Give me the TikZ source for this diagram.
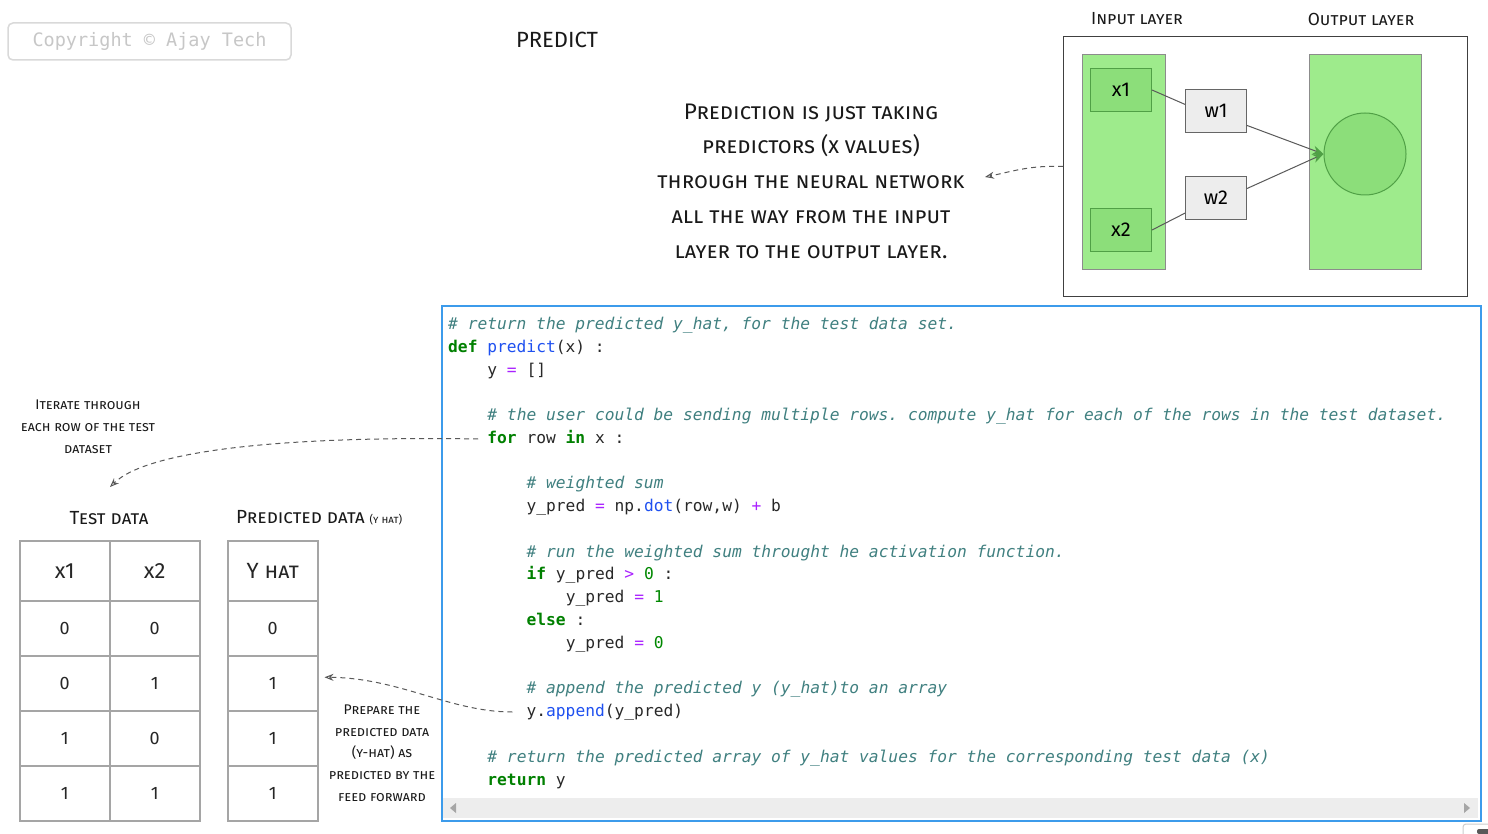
\documentclass[tikz,border=0pt]{standalone}
\usepackage{fontspec}
\usetikzlibrary{arrows.meta,calc}
\newfontfamily\hand[Letters=SmallCaps]{Fira Sans}
\newfontfamily\handup{Fira Sans}
\newfontfamily\codefont{DejaVu Sans Mono}
\frenchspacing
\definecolor{cmt}{RGB}{64,128,128}
\definecolor{kw}{RGB}{0,128,0}
\definecolor{fn}{RGB}{30,80,240}
\definecolor{op}{RGB}{170,34,255}
\definecolor{num}{RGB}{0,136,0}
\definecolor{txt}{RGB}{40,40,40}
\definecolor{codeblue}{RGB}{60,155,235}
\definecolor{layergreen}{RGB}{158,235,140}
\definecolor{cellgreen}{RGB}{140,222,122}
\definecolor{greenborder}{RGB}{80,160,70}
\definecolor{gridgray}{RGB}{165,165,165}
\newcommand\Kw[1]{\textcolor{kw}{\bfseries #1}}
\newcommand\Fn[1]{\textcolor{fn}{#1}}
\newcommand\Op[1]{\textcolor{op}{#1}}
\newcommand\Nm[1]{\textcolor{num}{#1}}
\newcommand\Cm[1]{\textcolor{cmt}{\itshape #1}}
\begin{document}
\begin{tikzpicture}[x=1pt,y=-1pt,
  codeln/.style={anchor=west, inner sep=0pt, text height=12pt, text depth=3.5pt, yshift=-2pt,
    font=\codefont\fontsize{16.25}{20}\selectfont, text=txt},
  handtext/.style={inner sep=0pt, align=center, text=black!90},
  cellbox/.style={draw=gridgray, line width=1.5pt, anchor=north west, inner sep=0pt,
    font=\handup\fontsize{18}{22}\selectfont, text=black!85},
  dasharrow/.style={draw=black!65, dashed, line width=1pt, dash pattern=on 5pt off 4pt,
    -{Stealth[length=9pt,width=7pt,open,line width=1pt]}},
  nnbox/.style={draw=black!60, line width=1pt, fill=black!7, minimum width=61pt,
    minimum height=43pt, inner sep=0pt, font=\handup\fontsize{20}{24}\selectfont},
  xbox/.style={draw=greenborder, line width=1pt, fill=cellgreen, minimum width=61pt,
    minimum height=43pt, inner sep=0pt, font=\handup\fontsize{20}{24}\selectfont},
  layer/.style={draw=black!45, line width=1pt, fill=layergreen, inner sep=0pt},
  nnline/.style={draw=black!65, line width=1pt}
]
\useasboundingbox (0,0) rectangle (1488,834);
\fill[white] (0,0) rectangle (1488,834);

% copyright
\node[draw=black!15, line width=1.5pt, rounded corners=5pt, minimum width=283pt,
  minimum height=37pt, inner sep=0pt, text=black!22,
  font=\codefont\fontsize{18.5}{20}\selectfont] (copy) at (149.5,41.5) {Copyright © Ajay Tech};

% title
\node[handtext, font=\handup\fontsize{22}{26}\selectfont] (title) at (557,40) {PREDICT};

% explanation text
\node[handtext, font=\hand\fontsize{22.5}{34.8}\selectfont] (expl) at (811,181)
  {Prediction is just taking\\predictors (x values)\\through the neural network\\all the way from the input\\layer to the output layer.};

% network
\node[draw=black!75, line width=1pt, fill=white, minimum width=404pt, minimum height=260pt,
  inner sep=0pt, anchor=north west] (netbox) at (1063,36) {};
\node[handtext, font=\hand\fontsize{17.5}{20}\selectfont] (inlab) at (1137,19) {Input layer};
\node[handtext, font=\hand\fontsize{17.5}{20}\selectfont] (outlab) at (1361,19) {Output layer};
\node[layer, minimum width=83pt, minimum height=215pt, anchor=north west] (inlayer) at (1082,54) {};
\node[layer, minimum width=112pt, minimum height=215pt, anchor=north west] (outlayer) at (1309,54) {};
\node[xbox, anchor=north west] (x1) at (1090,68) {x1};
\node[xbox, anchor=north west] (x2) at (1090,208) {x2};
\node[nnbox, anchor=north west] (w1) at (1185,89) {w1};
\node[nnbox, anchor=north west] (w2) at (1185,176) {w2};
\node[circle, draw=greenborder, line width=1pt, fill=cellgreen, minimum size=82pt, inner sep=0pt] (out) at (1365,154) {};
\draw[nnline] (x1.east) -- (w1.168);
\draw[nnline] (x2.east) -- (w2.206);
\draw[nnline, -{Stealth[length=11pt,width=9pt,color=greenborder]}] (w1.-25) -- (out.west);
\draw[nnline, -{Stealth[length=11pt,width=9pt,color=greenborder]}] (w2.17) -- (out.west);
\coordinate (explarrow) at (985,177);
\draw[dasharrow] (netbox.west) .. controls (1030,165) and (1010,172) .. (explarrow);

% code box
\node[draw=codeblue, line width=1.8pt, fill=white, minimum width=1039pt, minimum height=515pt,
  inner sep=0pt, anchor=north west] (code) at (441,305) {};
\fill[black!7] (443,798) rectangle (1478,818);
\fill[black!35] (450,808) -- (456,803) -- (456,813) -- cycle;
\fill[black!35] (1470,808) -- (1464,803) -- (1464,813) -- cycle;
\draw[black!20, line width=1pt, rounded corners=3pt] (1463,834) -- (1463,824) -- (1488,824);
\fill[black!65, rounded corners=2pt] (1477,834) rectangle (1490,829);

\def\dx{9.8}
\node[codeln] (c1) at (448,323) {\Cm{\# return the predicted y\_hat, for the test data set.}};
\node[codeln] (c2) at (448,346) {\Kw{def} \Fn{predict}(x) :};
\node[codeln] (c3) at ({448+4*\dx},369) {y \Op{=} []};
\node[codeln] (c5) at ({448+4*\dx},414) {\Cm{\# the user could be sending multiple rows. compute y\_hat for each of the rows in the test dataset.}};
\node[codeln] (c6) at ({448+4*\dx},437) {\Kw{for} row \Kw{in} x :};
\node[codeln] (c8) at ({448+8*\dx},482) {\Cm{\# weighted sum}};
\node[codeln] (c9) at ({448+8*\dx},505) {y\_pred \Op{=} np.\Fn{dot}(row,w) \Op{+} b};
\node[codeln] (c11) at ({448+8*\dx},551) {\Cm{\# run the weighted sum throught he activation function.}};
\node[codeln] (c12) at ({448+8*\dx},573) {\Kw{if} y\_pred \Op{>} \Nm{0} :};
\node[codeln] (c13) at ({448+12*\dx},596) {y\_pred \Op{=} \Nm{1}};
\node[codeln] (c14) at ({448+8*\dx},619) {\Kw{else} :};
\node[codeln] (c15) at ({448+12*\dx},642) {y\_pred \Op{=} \Nm{0}};
\node[codeln] (c17) at ({448+8*\dx},687) {\Cm{\# append the predicted y (y\_hat)to an array}};
\node[codeln] (c18) at ({448+8*\dx},710) {y.\Fn{append}(y\_pred)};
\node[codeln] (c20) at ({448+4*\dx},756) {\Cm{\# return the predicted array of y\_hat values for the corresponding test data (x)}};
\node[codeln] (c21) at ({448+4*\dx},779) {\Kw{return} y};

% left annotations
\node[handtext, font=\hand\fontsize{14}{22}\selectfont] (iter) at (88,427) {Iterate through\\each row of the test\\dataset};
\node[handtext, font=\hand\fontsize{19}{22}\selectfont] (testlab) at (109,518) {Test data};
\node[handtext, font=\hand\fontsize{19}{22}\selectfont, anchor=west] (predlab) at (236,518) {Predicted data {\fontsize{11}{12}\selectfont (y hat)}};
\node[handtext, font=\hand\fontsize{14}{21.7}\selectfont] (prep) at (382,753) {Prepare the\\predicted data\\(y-hat) as\\predicted by the\\feed forward};

% tables
\node[cellbox, minimum width=90pt, minimum height=60pt, font=\handup\fontsize{22}{24}\selectfont] (t1h1) at (19,540) {x1};
\node[cellbox, minimum width=90pt, minimum height=60pt, font=\handup\fontsize{22}{24}\selectfont] (t1h2) at (109,540) {x2};
\node[cellbox, minimum width=90pt, minimum height=60pt, font=\hand\fontsize{22}{24}\selectfont] (t2h) at (227,540) {Y hat};
\foreach \a/\b/\c [count=\i from 0] in {0/0/0,0/1/1,1/0/1,1/1/1}{
  \node[cellbox, minimum width=90pt, minimum height=55pt] (t1r\i a) at (19,{600+55*\i}) {\a};
  \node[cellbox, minimum width=90pt, minimum height=55pt] (t1r\i b) at (109,{600+55*\i}) {\b};
  \node[cellbox, minimum width=90pt, minimum height=55pt] (t2r\i) at (227,{600+55*\i}) {\c};
}

% dashed arrows
\coordinate (iterend) at (110,487);
\draw[dasharrow] ($(c6.west)+(-9,0)$) .. controls (300,436) and (150,448) .. (iterend);
\draw[dasharrow] ($(c18.west)+(-14,0)$) .. controls (450,712) and (400,678) .. ($(t2r1.east)+(6,-6)$);
\end{tikzpicture}
\end{document}
